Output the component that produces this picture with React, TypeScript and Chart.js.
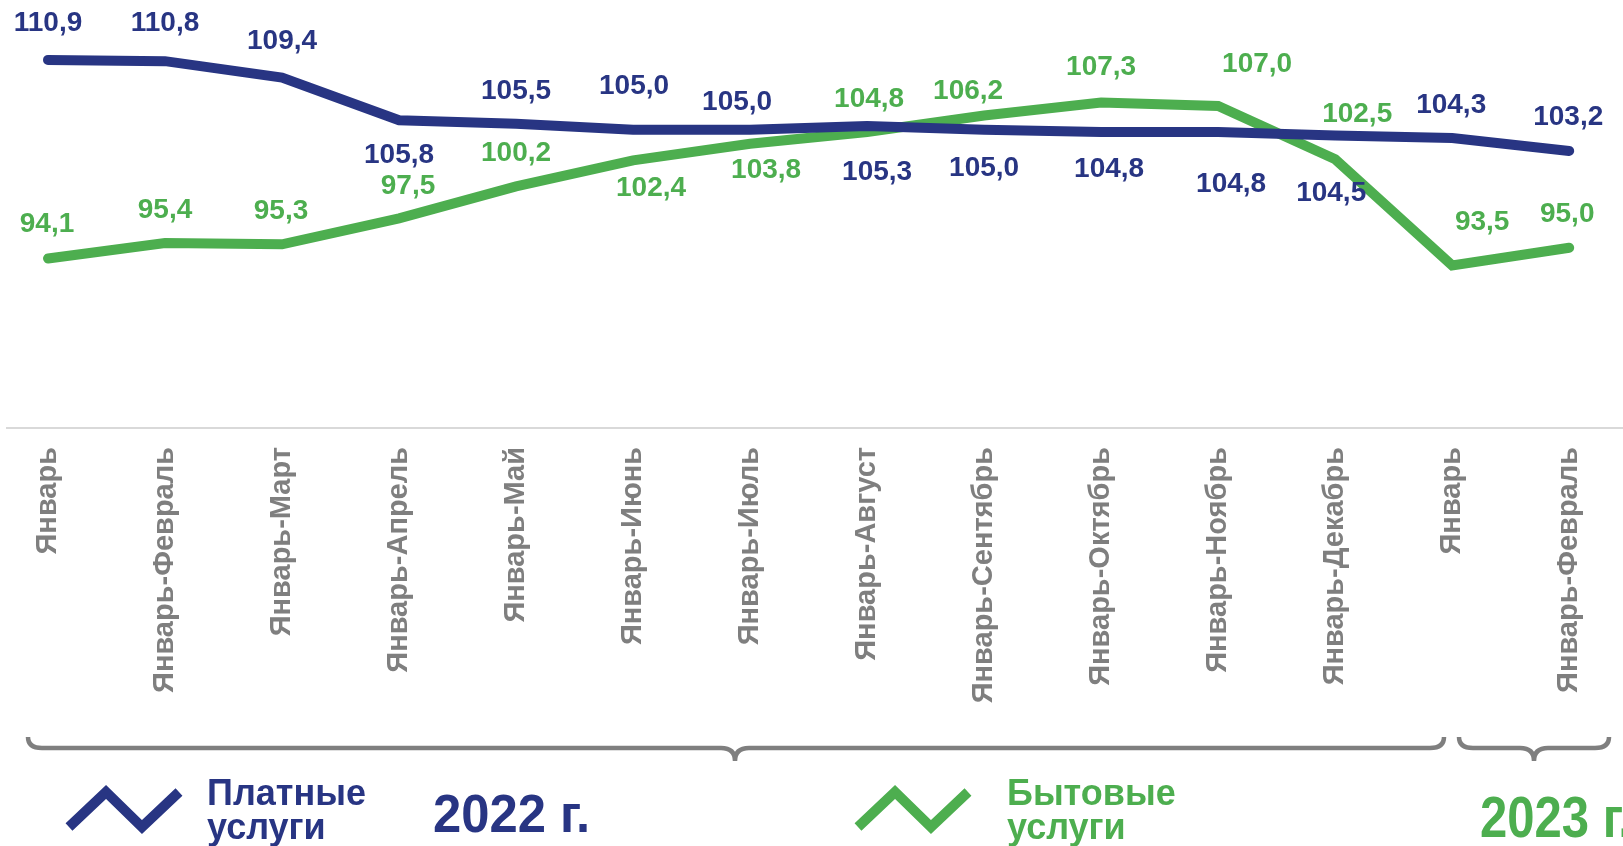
import React, { useEffect, useRef } from "react";
import { Chart, registerables } from "chart.js";

Chart.register(...registerables);

// ---- Data ----
const categories = [
  "Январь",
  "Январь-Февраль",
  "Январь-Март",
  "Январь-Апрель",
  "Январь-Май",
  "Январь-Июнь",
  "Январь-Июль",
  "Январь-Август",
  "Январь-Сентябрь",
  "Январь-Октябрь",
  "Январь-Ноябрь",
  "Январь-Декабрь",
  "Январь",
  "Январь-Февраль",
];
const paidServices = [110.9, 110.8, 109.4, 105.8, 105.5, 105.0, 105.0, 105.3, 105.0, 104.8, 104.8, 104.5, 104.3, 103.2];
const householdServices = [94.1, 95.4, 95.3, 97.5, 100.2, 102.4, 103.8, 104.8, 106.2, 107.3, 107.0, 102.5, 93.5, 95.0];
const seriesNames = ["Платные\nуслуги", "Бытовые\nуслуги"];
const yearLabels = ["2022 г.", "2023 г."];

// ---- Styling / layout (not data) ----
const NAVY = "#283583";
const GREEN = "#4DAE4F";
const GREY = "#7f7f7f";
const W = 1623;
const H = 846;
const AXIS_Y = 428;

// data label offsets (dx, dy) from each point
const paidLabelOffsets = [[0, -37], [0, -38], [0, -36], [0, 35], [0, -32], [1, -43], [-13, -27], [10, 46], [0, 39], [8, 37], [13, 52], [-4, 58], [-1, -33], [-1, -34]];
const householdLabelOffsets = [[-1, -34], [0, -33], [-1, -33], [9, -32], [0, -33], [18, 28], [16, 26], [2, -33], [-16, -24], [0, -35], [39, -42], [22, -45], [30, -43], [-2, -34]];

const fmt = (v: number) => v.toFixed(1).replace(".", ",");

const decorPlugin = {
  id: "decor",
  beforeDatasetsDraw(chart: any) {
    const ctx = chart.ctx;
    ctx.save();
    ctx.strokeStyle = "#d9d9d9";
    ctx.lineWidth = 2;
    ctx.beginPath();
    ctx.moveTo(6, AXIS_Y);
    ctx.lineTo(W, AXIS_Y);
    ctx.stroke();
    ctx.restore();
  },
  afterDatasetsDraw(chart: any) {
    const ctx = chart.ctx;
    ctx.save();
    ctx.font = "bold 28px 'Liberation Sans', Arial, sans-serif";
    ctx.textAlign = "center";
    ctx.textBaseline = "middle";
    const sets = [
      { vals: paidServices, offs: paidLabelOffsets, color: NAVY },
      { vals: householdServices, offs: householdLabelOffsets, color: GREEN },
    ];
    sets.forEach((s, di) => {
      const meta = chart.getDatasetMeta(di);
      ctx.fillStyle = s.color;
      meta.data.forEach((pt: any, i: number) => {
        ctx.fillText(fmt(s.vals[i]), pt.x + s.offs[i][0], pt.y + s.offs[i][1]);
      });
    });
    ctx.restore();
  },
  afterDraw(chart: any) {
    const ctx = chart.ctx;
    ctx.save();
    // braces
    ctx.strokeStyle = GREY;
    ctx.lineWidth = 4.5;
    ctx.lineCap = "butt";
    const brace = (L: number, R: number, C: number) => {
      const top = 737, mid = 748, tip = 761, r = 14;
      ctx.beginPath();
      ctx.moveTo(L, top);
      ctx.quadraticCurveTo(L, mid, L + r, mid);
      ctx.lineTo(C - r, mid);
      ctx.quadraticCurveTo(C, mid, C, tip);
      ctx.quadraticCurveTo(C, mid, C + r, mid);
      ctx.lineTo(R - r, mid);
      ctx.quadraticCurveTo(R, mid, R, top);
      ctx.stroke();
    };
    brace(28, 1444, 735);
    brace(1459, 1609, 1534);
    // legend icons
    const icon = (x0: number, color: string) => {
      ctx.strokeStyle = color;
      ctx.lineWidth = 10;
      ctx.lineJoin = "miter";
      ctx.beginPath();
      ctx.moveTo(x0, 827);
      ctx.lineTo(x0 + 37, 792);
      ctx.lineTo(x0 + 73, 827);
      ctx.lineTo(x0 + 110, 792);
      ctx.stroke();
    };
    icon(69, NAVY);
    icon(858, GREEN);
    ctx.restore();
  },
};

export default function App() {
  const ref = useRef<HTMLCanvasElement | null>(null);
  useEffect(() => {
    document.body.style.margin = "0";
    const canvas = ref.current!;
    const chart = new Chart(canvas, {
      type: "line",
      data: {
        labels: categories,
        datasets: [
          {
            label: seriesNames[0],
            data: paidServices,
            borderColor: NAVY,
            borderWidth: 10,
            borderCapStyle: "round",
            borderJoinStyle: "miter",
            pointRadius: 0,
            tension: 0,
            fill: false,
            clip: false as any,
          },
          {
            label: seriesNames[1],
            data: householdServices,
            borderColor: GREEN,
            borderWidth: 10,
            borderCapStyle: "round",
            borderJoinStyle: "miter",
            pointRadius: 0,
            tension: 0,
            fill: false,
            clip: false as any,
          },
        ],
      },
      options: {
        animation: false,
        responsive: false,
        devicePixelRatio: 1,
        layout: { padding: { left: 48, right: 46, top: 11.5, bottom: 0 } },
        plugins: { legend: { display: false }, tooltip: { enabled: false } },
        scales: {
          x: {
            offset: false,
            grid: { display: false, drawTicks: false },
            border: { display: false },
            ticks: {
              autoSkip: false,
              minRotation: 90,
              maxRotation: 90,
              padding: 19,
              color: GREY,
              font: { family: "'Liberation Sans', Arial, sans-serif", weight: "bold", size: 29 },
            },
            afterFit: (s: any) => {
              s.height = H - AXIS_Y;
            },
          },
          y: { display: false, min: 79.75, max: 115 },
        },
      },
      plugins: [decorPlugin],
    });
    return () => chart.destroy();
  }, []);

  const txt = (color: string, size: number, lh: number, scale: number): React.CSSProperties => ({
    position: "absolute",
    color,
    fontFamily: "'Liberation Sans', Arial, sans-serif",
    fontWeight: "bold",
    fontSize: size,
    lineHeight: lh + "px",
    whiteSpace: "pre",
    transform: `scaleX(${scale})`,
    transformOrigin: "left top",
  });

  return (
    <div style={{ position: "relative", width: W, height: H, overflow: "hidden", background: "#fff" }}>
      <canvas ref={ref} width={W} height={H} style={{ display: "block", width: W, height: H }} />
      <div style={{ ...txt(NAVY, 36, 34, 1.0), left: 207, top: 776 }}>{seriesNames[0]}</div>
      <div style={{ ...txt(GREEN, 36, 34, 1.0), left: 1007, top: 776 }}>{seriesNames[1]}</div>
      <div style={{ ...txt(NAVY, 54, 54, 0.94), left: 433, top: 786 }}>{yearLabels[0]}</div>
      <div style={{ ...txt(GREEN, 57, 57, 0.86), left: 1480, top: 789 }}>{yearLabels[1]}</div>
    </div>
  );
}
